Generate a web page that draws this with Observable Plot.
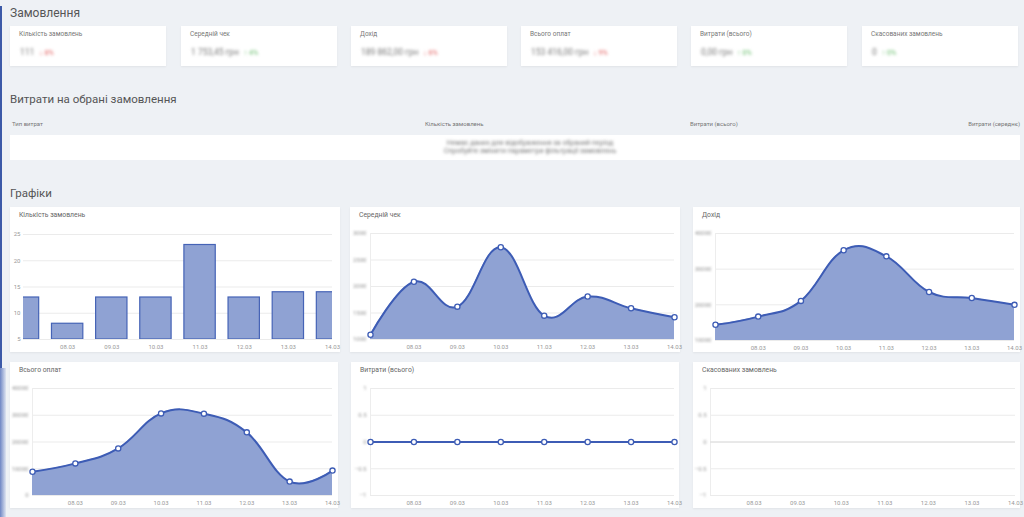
<!DOCTYPE html>
<html><head><meta charset="utf-8">
<script src="https://cdn.jsdelivr.net/npm/d3@7"></script>
<script src="https://cdn.jsdelivr.net/npm/@observablehq/plot@0.6"></script>
<style>
body{margin:0;width:1024px;height:517px;overflow:hidden;background:#eef1f5;font-family:Roboto,"Liberation Sans",sans-serif;position:relative}
.h{position:absolute;left:10px;color:#555;font-size:11.5px;line-height:14px;white-space:nowrap}
.card{position:absolute;background:#fff;box-shadow:0 1px 2px rgba(0,0,0,.06);}
.kl{position:absolute;left:9px;top:4px;font-size:6.5px;line-height:8px;color:#777;white-space:nowrap}
.kv{position:absolute;left:10px;top:21px;font-size:8.5px;line-height:11px;color:#777;filter:blur(1.7px);white-space:nowrap}
.kv .up{color:#5cb860;font-size:7px;margin-left:5px}
.kv .dn{color:#e05555;font-size:7px;margin-left:5px}
.th{position:absolute;top:120px;font-size:6px;line-height:8px;color:#777;white-space:nowrap}
.ct{position:absolute;left:9px;top:4px;font-size:6.8px;line-height:9px;color:#666;white-space:nowrap}
.card svg{position:absolute;left:0;top:0}
</style></head>
<body>
<svg width="0" height="0" style="position:absolute"><defs><filter id="bl" x="-50%" y="-50%" width="200%" height="200%"><feGaussianBlur stdDeviation="1.1"/></filter></defs></svg>
<div style="position:absolute;left:0;top:6px;width:2px;height:511px;background:#3d5aa8"></div>
<div style="position:absolute;left:0;top:368px;width:6px;height:149px;background:linear-gradient(to right,#6f86c4,#dfe5f1)"></div>

<div class="h" style="top:6px;font-size:12px">Замовлення</div>
<div id="kpis"></div>

<div class="h" style="top:92px">Витрати на обрані замовлення</div>
<div class="th" style="left:12px">Тип витрат</div>
<div class="th" style="left:425px">Кількість замовлень</div>
<div class="th" style="left:690px">Витрати (всього)</div>
<div class="th" style="right:4px">Витрати (середнє)</div>
<div class="card" style="left:10px;top:135px;width:1010px;height:25px;box-shadow:none">
  <div style="position:absolute;left:385px;width:270px;top:4px;text-align:center;font-size:7px;line-height:8px;color:#777;filter:blur(1.4px)">Немає даних для відображення за обраний період<br>Спробуйте змінити параметри фільтрації замовлень</div>
</div>

<div class="h" style="top:186px">Графіки</div>
<div id="charts"></div>

<script>
// ---- data ----
const kpiLabels = ["Кількість замовлень","Середній чек","Дохід","Всього оплат","Витрати (всього)","Скасованих замовлень"];
const kpiValues = ["111","1 753,45 грн","189 862,00 грн","153 416,00 грн","0,00 грн","0"];
const kpiTrend = ["dn","up","dn","dn","up","up"];
const kpiTrendText = ["↓ 8%","↑ 4%","↓ 6%","↓ 9%","↑ 0%","↑ 0%"];

const dates = ["07.03","08.03","09.03","10.03","11.03","12.03","13.03","14.03"];
const orders = [13, 8, 13, 13, 23, 13, 14, 14];
const avgCheck = [1090, 2090, 1620, 2740, 1450, 1810, 1590, 1420];
const revenue = [14400, 16700, 21100, 35300, 33600, 23600, 21900, 20000];
const payments = [8900, 12000, 17600, 30700, 30600, 23600, 5200, 9300];
const expenses = [0, 0, 0, 0, 0, 0, 0, 0];
const cancelled = [];

const ordersTicks = [5, 10, 15, 20, 25];
const avgCheckTicks = [1000, 1500, 2000, 2500, 3000];
const revenueTicks = [10000, 20000, 30000, 40000];
const paymentsTicks = [0, 10000, 20000, 30000, 40000];
const expensesTicks = [-1, -0.5, 0, 0.5, 1];
const cancelledTicks = [-1, -0.5, 0, 0.5, 1];

// ---- KPI cards ----
const kpiX = [10, 181, 351, 521, 691, 862];
const kpis = document.getElementById("kpis");
kpiLabels.forEach((l, i) => {
  const c = document.createElement("div");
  c.className = "card";
  c.style.cssText = `left:${kpiX[i]}px;top:26px;width:156px;height:40px`;
  c.innerHTML = `<div class="kl">${l}</div><div class="kv">${kpiValues[i]}<span class="${kpiTrend[i]}">${kpiTrendText[i]}</span></div>`;
  kpis.appendChild(c);
});

// ---- charts ----
const FILL = "#8fa2d3", STROKE = "#3d5cb5";
const curve = d3.curveCardinal.tension(-0.2);
const idx = dates.map((d, i) => i);
const xTickIdx = idx.slice(1);
const charts = document.getElementById("charts");

function card(title, x, y, w, h) {
  const c = document.createElement("div");
  c.className = "card";
  c.style.cssText = `left:${x}px;top:${y}px;width:${w}px;height:${h}px`;
  c.innerHTML = `<div class="ct">${title}</div>`;
  charts.appendChild(c);
  return c;
}

function base(w, h, m) {
  return {
    width: w, height: h,
    marginLeft: m[0], marginRight: m[1], marginTop: m[2], marginBottom: m[3],
    style: {fontSize: "6px", color: "#999", fontFamily: "Roboto, sans-serif", background: "transparent", overflow: "visible"},
    x: {domain: [0, dates.length - 1], label: null}
  };
}

function xAxis() {
  return Plot.axisX(xTickIdx, {tickSize: 0, tickPadding: 5, tickFormat: i => dates[i], fill: "#999", label: null});
}

function blurY(svg) {
  svg.querySelectorAll('g[aria-label="y-axis tick label"]').forEach(g => g.setAttribute("filter", "url(#bl)"));
}

// Chart 1: bars
{
  const c = card("Кількість замовлень", 10, 207, 330, 145);
  const data = orders.map((v, i) => ({i, v}));
  const svg = Plot.plot({
    ...base(330, 145, [13, 8, 27, 13]),
    y: {domain: [5, 25], label: null},
    marks: [
      Plot.gridY(ordersTicks, {stroke: "#ebebeb", strokeOpacity: 1}),
      Plot.rect(data, {x1: d => d.i - 0.355, x2: d => d.i + 0.355, y1: 5, y2: "v", fill: FILL, stroke: "#4563b6", strokeWidth: 1.2, clip: true}),
      Plot.axisY(ordersTicks, {tickSize: 0, tickPadding: 3, fill: "#999", label: null}),
      xAxis()
    ]
  });
  c.appendChild(svg);
}

function lineChart({title, x, y, w, h, m, values, ticks, area = true, zero = false}) {
  const c = card(title, x, y, w, h);
  const data = values.map((v, i) => ({i, v}));
  const dom = [ticks[0], ticks[ticks.length - 1]];
  const marks = [
    Plot.gridY(ticks, {stroke: "#ebebeb", strokeOpacity: 1}),
    Plot.ruleX([0], {stroke: "#ededed"})
  ];
  if (zero) marks.push(Plot.ruleY([0], {stroke: "#dcdcdc"}));
  if (data.length) {
    if (area) marks.push(Plot.areaY(data, {x: "i", y1: dom[0], y2: "v", curve, fill: FILL}));
    marks.push(Plot.lineY(data, {x: "i", y: "v", curve, stroke: STROKE, strokeWidth: 2}));
    marks.push(Plot.dot(data, {x: "i", y: "v", r: 2.6, fill: "#fff", stroke: STROKE, strokeWidth: 1.3}));
  }
  marks.push(Plot.axisY(ticks, {tickSize: 0, tickPadding: 4, fill: "#999", tickFormat: d3.format(""), label: null}));
  marks.push(xAxis());
  const svg = Plot.plot({...base(w, h, m), y: {domain: dom, label: null}, marks});
  blurY(svg);
  c.appendChild(svg);
}

lineChart({title: "Середній чек", x: 350, y: 207, w: 330, h: 145, m: [20, 6, 26, 13], values: avgCheck, ticks: avgCheckTicks});
lineChart({title: "Дохід", x: 693, y: 207, w: 327, h: 145, m: [22, 6, 26, 12], values: revenue, ticks: revenueTicks});
lineChart({title: "Всього оплат", x: 10, y: 362, w: 328, h: 146, m: [22, 6, 26, 13], values: payments, ticks: paymentsTicks});
lineChart({title: "Витрати (всього)", x: 351, y: 362, w: 328, h: 146, m: [19, 5, 26, 13], values: expenses, ticks: expensesTicks, area: false});
lineChart({title: "Скасованих замовлень", x: 693, y: 362, w: 327, h: 146, m: [17, 5, 26, 13], values: cancelled, ticks: cancelledTicks, zero: true});
</script>
</body></html>
